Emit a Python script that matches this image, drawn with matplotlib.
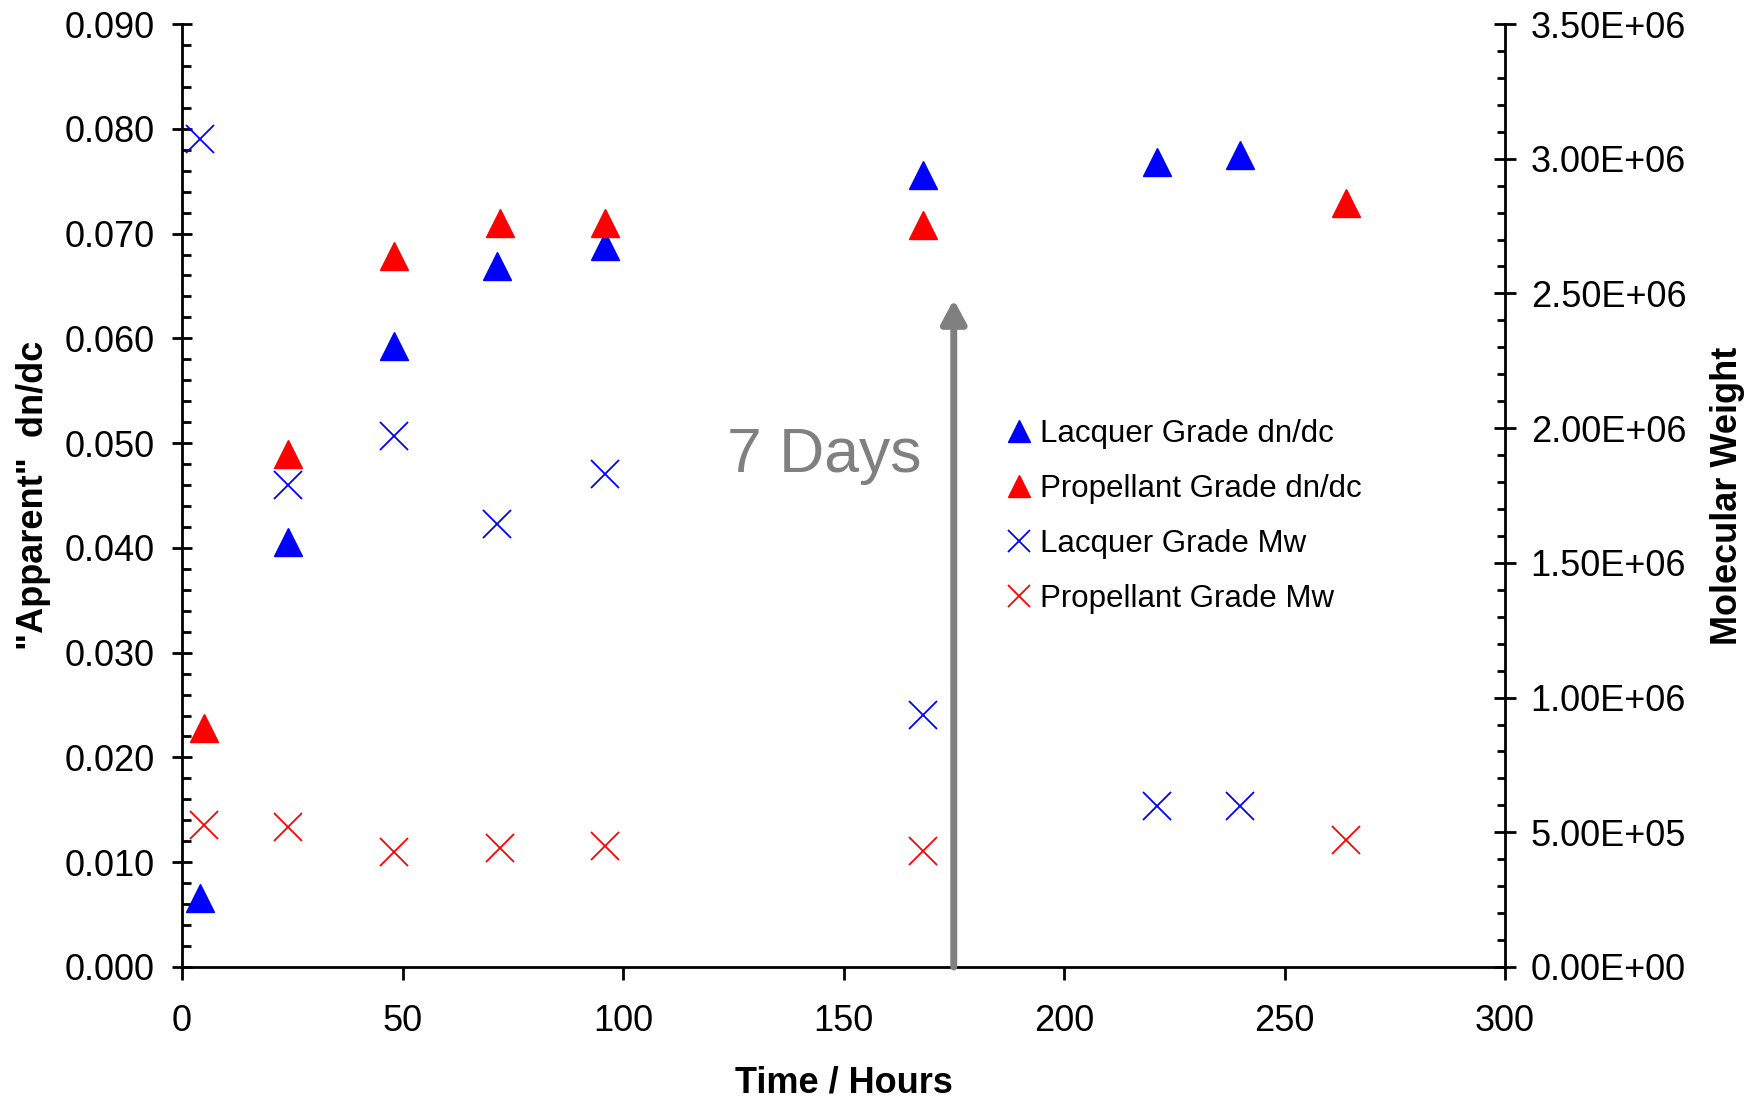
import matplotlib
matplotlib.use("Agg")
import matplotlib.pyplot as plt
from matplotlib.ticker import MultipleLocator, FuncFormatter

plt.rcParams['font.family'] = ['Liberation Sans', 'DejaVu Sans']

# dn/dc series (left axis)
lacquer_hours = [4, 24, 48, 71.5, 96, 168, 221, 240]
lacquer_dndc = [0.0066, 0.0406, 0.0593, 0.0669, 0.0688, 0.0756, 0.0768, 0.0775]
propellant_hours = [5, 24, 48, 72, 96, 168, 264]
propellant_dndc = [0.0228, 0.0490, 0.0679, 0.0710, 0.0710, 0.0708, 0.0729]

# molecular weight series (right axis)
lacquer_mw = [3.072e6, 1.789e6, 1.971e6, 1.643e6, 1.829e6, 0.936e6, 0.599e6, 0.599e6]
propellant_mw = [0.526e6, 0.520e6, 0.427e6, 0.441e6, 0.449e6, 0.429e6, 0.470e6]

arrow_hour = 175
arrow_top = 0.0637

fig = plt.figure(figsize=(17.58, 10.98), dpi=100)
ax = fig.add_axes([0.10353, 0.11931, 0.75256, 0.85883])
ax2 = ax.twinx()

ms = 20
h1, = ax.plot(lacquer_hours, lacquer_dndc, '^', color='#0000FF', ms=ms, mec='#0000FF', ls='none',
              label='Lacquer Grade dn/dc')
h2, = ax.plot(propellant_hours, propellant_dndc, '^', color='#FF0000', ms=ms, mec='#FF0000', ls='none',
              label='Propellant Grade dn/dc')
h3, = ax2.plot(lacquer_hours, lacquer_mw, 'x', color='#0000FF', ms=ms, mew=1.3, ls='none',
               label='Lacquer Grade Mw')
h4, = ax2.plot(propellant_hours, propellant_mw, 'x', color='#FF0000', ms=ms, mew=1.3, ls='none',
               label='Propellant Grade Mw')

# 7 days arrow
ax.annotate('', xy=(arrow_hour, arrow_top), xytext=(arrow_hour, 0),
            arrowprops=dict(arrowstyle='-|>,head_length=1.4,head_width=0.75', color='#808080', lw=5,
                            shrinkA=0, shrinkB=0))
ax.text(145.6, 0.0472, '7 Days', fontsize=45, color='#808080', ha='center', va='baseline')

ax.set_xlim(0, 300)
ax.set_ylim(0, 0.09)
ax2.set_ylim(0, 3.5e6)

ax.xaxis.set_major_locator(MultipleLocator(50))
ax.yaxis.set_major_locator(MultipleLocator(0.01))
ax.yaxis.set_minor_locator(MultipleLocator(0.002))
ax.yaxis.set_major_formatter(FuncFormatter(lambda v, p: f'{v:.3f}'))
ax2.yaxis.set_major_locator(MultipleLocator(5e5))
ax2.yaxis.set_minor_locator(MultipleLocator(1e5))
ax2.yaxis.set_major_formatter(FuncFormatter(lambda v, p: f'{v:.2E}'))

for a in (ax, ax2):
    a.spines['top'].set_visible(False)
    for s in a.spines.values():
        s.set_linewidth(2)
ax.spines['right'].set_visible(False)
ax2.spines['left'].set_visible(False)
ax2.spines['bottom'].set_visible(False)

ax.tick_params(axis='x', which='major', direction='out', length=9.5, width=2, labelsize=26, pad=17)
ax.tick_params(axis='y', which='major', direction='inout', length=15, width=2, labelsize=26, pad=12)
ax.tick_params(axis='y', which='minor', direction='in', length=6.5, width=2)
ax2.tick_params(axis='y', which='major', direction='inout', length=16, width=2, labelsize=26, pad=10.5)
ax2.tick_params(axis='y', which='minor', direction='in', length=5.5, width=2)

ax.set_xlabel('Time / Hours', fontsize=26, fontweight='bold', labelpad=19)
ax.set_ylabel('"Apparent"  dn/dc', fontsize=26, fontweight='bold', labelpad=10)
ax2.set_ylabel('Molecular Weight', fontsize=26, fontweight='bold', labelpad=17)

fig.legend(handles=[h1, h2, h3, h4], loc='upper left', bbox_to_anchor=(1007 / 1758, 1 - 419 / 1098),
           frameon=False, fontsize=22.5, markerscale=0.8, handlelength=0.8, handletextpad=0.25,
           labelspacing=0.8, borderpad=0, borderaxespad=0)

fig.savefig('out.png', dpi=100)
